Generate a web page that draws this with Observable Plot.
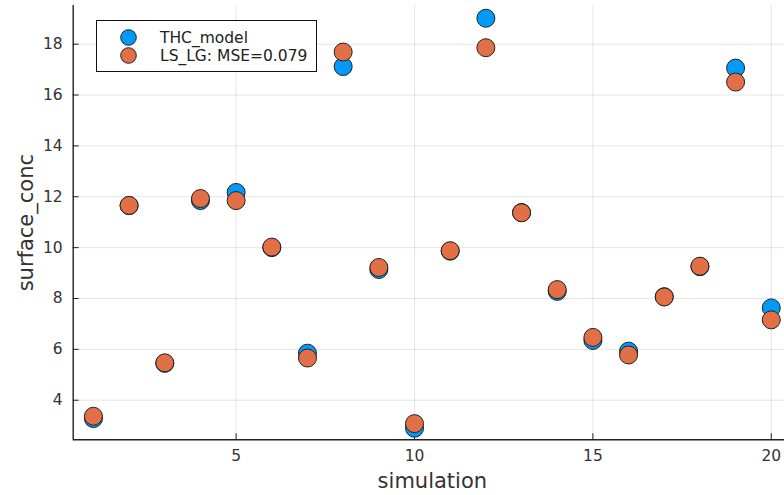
<!DOCTYPE html>
<html>
<head>
<meta charset="utf-8">
<script src="https://cdn.jsdelivr.net/npm/d3@7"></script>
<script src="https://cdn.jsdelivr.net/npm/@observablehq/plot@0.6"></script>
<style>
  html, body { margin: 0; padding: 0; background: #fff; overflow: hidden; }
  #wrap { position: relative; width: 784px; height: 495px; }
  #legend { position: absolute; left: 96px; top: 20px; width: 219px; height: 50px; border: 1.3px solid #111; background: #fff; }
</style>
</head>
<body>
<div id="wrap"></div>
<script>
const simulation = d3.range(1, 21);
const thcModel = [3.28, 11.65, 5.45, 11.85, 12.17, 10.0, 5.85, 17.12, 9.14, 2.90, 9.86, 19.02, 11.38, 8.28, 6.35, 5.93, 8.07, 9.25, 17.06, 7.63];
const lsLg     = [3.37, 11.66, 5.47, 11.93, 11.85, 10.02, 5.66, 17.69, 9.22, 3.08, 9.88, 17.86, 11.37, 8.35, 6.47, 5.78, 8.06, 9.27, 16.51, 7.16];
const xTicks = [5, 10, 15, 20];
const yTicks = [4, 6, 8, 10, 12, 14, 16, 18];
const seriesNames = ["THC_model", "LS_LG: MSE=0.079"];
const seriesColors = ["#009AFA", "#E26F46"];

const thcData = simulation.map((s, i) => ({sim: s, v: thcModel[i]}));
const lsData = simulation.map((s, i) => ({sim: s, v: lsLg[i]}));

const font = "DejaVu Sans, sans-serif";
const chart = Plot.plot({
  width: 784,
  height: 495,
  marginLeft: 72.7,
  marginRight: -7,
  marginTop: 5,
  marginBottom: 55.7,
  style: {fontFamily: font, fontSize: "15.5px", color: "#333", background: "#fff", overflow: "hidden"},
  x: {domain: [0.433, 20.567], ticks: xTicks},
  y: {domain: [2.444, 19.52], ticks: yTicks},
  marks: [
    Plot.gridX(xTicks, {stroke: "#000", strokeOpacity: 0.1, strokeWidth: 1}),
    Plot.gridY(yTicks, {stroke: "#000", strokeOpacity: 0.1, strokeWidth: 1}),
    Plot.axisX(xTicks, {tickSize: -6, tickPadding: 16, label: null, stroke: "#222", fill: "#333", fontSize: 15.5}),
    Plot.axisY(yTicks, {tickSize: -6, tickPadding: 16.5, label: null, stroke: "#222", fill: "#333", fontSize: 15.5}),
    Plot.ruleX([0.433], {stroke: "#222", strokeWidth: 1.4}),
    Plot.ruleY([2.444], {stroke: "#222", strokeWidth: 1.4}),
    Plot.dot(thcData, {x: "sim", y: "v", r: 9, fill: seriesColors[0], stroke: "#222", strokeWidth: 1}),
    Plot.dot(lsData, {x: "sim", y: "v", r: 9, fill: seriesColors[1], stroke: "#222", strokeWidth: 1}),
    Plot.text(["simulation"], {frameAnchor: "bottom", dy: 48, fontSize: 21, fill: "#333", lineAnchor: "bottom"}),
    Plot.text(["surface_conc"], {frameAnchor: "left", dx: -47, rotate: -90, textAnchor: "middle", fontSize: 21, fill: "#333"})
  ]
});
const wrap = document.getElementById("wrap");
wrap.appendChild(chart);

const legend = document.createElement("div");
legend.id = "legend";
let html = `<svg width="219" height="50" style="display:block;font-family:${font};font-size:15.5px">`;
seriesNames.forEach((n, i) => {
  const cy = 16.5 + i * 18;
  html += `<circle cx="31.5" cy="${cy}" r="7.8" fill="${seriesColors[i]}" stroke="#222" stroke-width="1"/>`;
  html += `<text x="63" y="${cy}" dy="0.36em" fill="#222">${n}</text>`;
});
html += `</svg>`;
legend.innerHTML = html;
wrap.appendChild(legend);
</script>
</body>
</html>
